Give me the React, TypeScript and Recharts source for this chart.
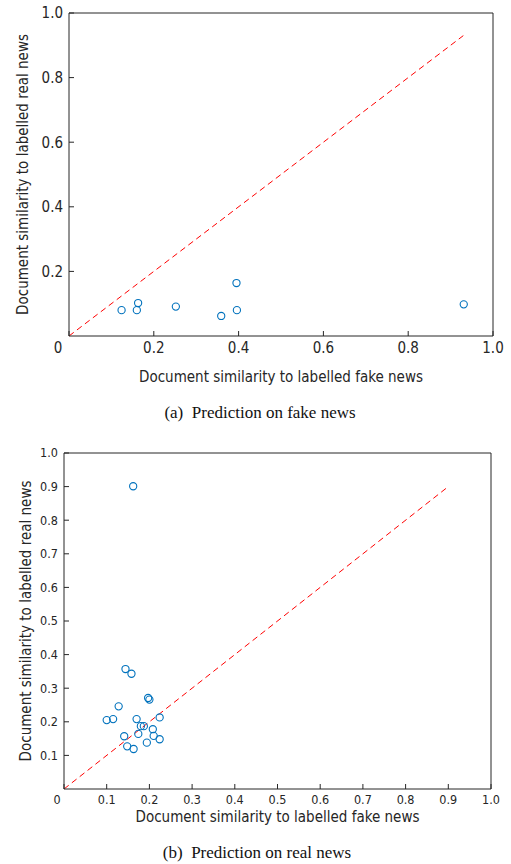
import { ScatterChart, Scatter, XAxis, YAxis, ReferenceLine } from 'recharts'

// (a) prediction on fake news
const FAKE_X = [0.124, 0.16, 0.163, 0.252, 0.359, 0.395, 0.396, 0.931]
const FAKE_Y = [0.08, 0.08, 0.102, 0.091, 0.062, 0.164, 0.08, 0.098]
const FAKE_X_TICKS = [0, 0.2, 0.4, 0.6, 0.8, 1.0]
const FAKE_Y_TICKS = [0.2, 0.4, 0.6, 0.8, 1.0]
const FAKE_DIAG_END = 0.93

// (b) prediction on real news
const REAL_X = [0.162, 0.144, 0.158, 0.197, 0.2, 0.128, 0.1, 0.115, 0.17, 0.224, 0.18, 0.187, 0.208, 0.174, 0.141, 0.21, 0.224, 0.194, 0.148, 0.163]
const REAL_Y = [0.901, 0.357, 0.343, 0.271, 0.266, 0.246, 0.205, 0.208, 0.208, 0.213, 0.187, 0.187, 0.178, 0.164, 0.157, 0.158, 0.148, 0.138, 0.127, 0.119]
const REAL_X_TICKS = [0, 0.1, 0.2, 0.3, 0.4, 0.5, 0.6, 0.7, 0.8, 0.9, 1.0]
const REAL_Y_TICKS = [0.1, 0.2, 0.3, 0.4, 0.5, 0.6, 0.7, 0.8, 0.9, 1.0]
const REAL_DIAG_END = 0.9

const X_LABEL = 'Document similarity to labelled fake news'
const Y_LABEL = 'Document similarity to labelled real news'
const CAPTION_A = '(a)  Prediction on fake news'
const CAPTION_B = '(b)  Prediction on real news'

const INK = '#262626'
const MARKER = '#0072BD'
const FONT = "'DejaVu Sans Condensed', 'DejaVu Sans', sans-serif"
const TICK_GAP = 6
const TICK_LEN = 5

const fmt = (v: number) => (v === 0 ? '0' : v.toFixed(1))

function BottomTick({ x, y, payload, fontSize, zeroShift }: any) {
  const ay = y - TICK_GAP
  const dx = payload.value === 0 ? zeroShift : 0
  return (
    <g>
      <line x1={x} x2={x} y1={ay} y2={ay - TICK_LEN} stroke={INK} />
      <text x={x + dx} y={y} dy="0.71em" textAnchor="middle" fill={INK} fontSize={fontSize} fontFamily={FONT}>
        {fmt(payload.value)}
      </text>
    </g>
  )
}

function LeftTick({ x, y, payload, fontSize }: any) {
  const ax = x + TICK_GAP
  return (
    <g>
      <line x1={ax} x2={ax + TICK_LEN} y1={y} y2={y} stroke={INK} />
      <text x={x} y={y} dy="0.355em" textAnchor="end" fill={INK} fontSize={fontSize} fontFamily={FONT}>
        {fmt(payload.value)}
      </text>
    </g>
  )
}

function TopTick({ x, y }: any) {
  const ay = y + TICK_GAP
  return <line x1={x} x2={x} y1={ay} y2={ay + TICK_LEN} stroke={INK} />
}

function RightTick({ x, y }: any) {
  const ax = x - TICK_GAP
  return <line x1={ax} x2={ax - TICK_LEN} y1={y} y2={y} stroke={INK} />
}

const OpenCircle = ({ cx, cy }: any) => (
  <circle cx={cx} cy={cy} r={3.6} fill="none" stroke={MARKER} strokeWidth={1.1} />
)

interface PanelProps {
  xs: number[]
  ys: number[]
  xTicks: number[]
  yTicks: number[]
  diagEnd: number
  height: number
  margin: { top: number; right: number; bottom: number; left: number }
  yAxisWidth: number
  xAxisHeight: number
  tickFont: number
  labelFont: number
  xLabelOffset: number
  yLabelOffset: number
  zeroShift: number
}

function Panel(p: PanelProps) {
  const data = p.xs.map((x, i) => ({ x, y: p.ys[i] }))
  const labelStyle = { fill: INK, fontSize: p.labelFont, fontFamily: FONT }
  return (
    <ScatterChart width={511} height={p.height} margin={p.margin}>
      <XAxis
        dataKey="x"
        type="number"
        domain={[0, 1]}
        ticks={p.xTicks}
        interval={0}
        height={p.xAxisHeight}
        tickSize={0}
        tickMargin={TICK_GAP}
        tickLine={false}
        axisLine={{ stroke: INK }}
        tick={<BottomTick fontSize={p.tickFont} zeroShift={p.zeroShift} />}
        label={{ value: X_LABEL, position: 'insideBottom', offset: p.xLabelOffset, style: labelStyle }}
      />
      <XAxis
        xAxisId="top"
        orientation="top"
        type="number"
        dataKey="x"
        domain={[0, 1]}
        ticks={p.xTicks}
        interval={0}
        height={1}
        tickSize={0}
        tickMargin={TICK_GAP}
        tickLine={false}
        axisLine={{ stroke: INK }}
        tick={<TopTick />}
      />
      <YAxis
        dataKey="y"
        type="number"
        domain={[0, 1]}
        ticks={p.yTicks}
        interval={0}
        width={p.yAxisWidth}
        tickSize={0}
        tickMargin={TICK_GAP}
        tickLine={false}
        axisLine={{ stroke: INK }}
        tick={<LeftTick fontSize={p.tickFont} />}
        label={{
          value: Y_LABEL,
          angle: -90,
          position: 'insideLeft',
          offset: p.yLabelOffset,
          style: { ...labelStyle, textAnchor: 'middle' },
        }}
      />
      <YAxis
        yAxisId="right"
        orientation="right"
        type="number"
        dataKey="y"
        domain={[0, 1]}
        ticks={p.yTicks}
        interval={0}
        width={1}
        tickSize={0}
        tickMargin={TICK_GAP}
        tickLine={false}
        axisLine={{ stroke: INK }}
        tick={<RightTick />}
      />
      <ReferenceLine
        segment={[
          { x: 0, y: 0 },
          { x: p.diagEnd, y: p.diagEnd },
        ]}
        stroke="#ff0000"
        strokeDasharray="6 4"
      />
      <Scatter data={data} shape={<OpenCircle />} isAnimationActive={false} />
    </ScatterChart>
  )
}

const captionStyle = {
  position: 'absolute' as const,
  left: 0,
  fontFamily: "'Liberation Serif', 'Times New Roman', serif",
  fontSize: 17,
  lineHeight: '17px',
  textAlign: 'center' as const,
  whiteSpace: 'pre' as const,
  color: '#111',
}

export default function App() {
  return (
    <div style={{ position: 'absolute', left: 0, top: 0, width: 511, height: 864, background: '#fff' }}>
      <div style={{ position: 'absolute', left: 0, top: 0 }}>
        <Panel
          xs={FAKE_X}
          ys={FAKE_Y}
          xTicks={FAKE_X_TICKS}
          yTicks={FAKE_Y_TICKS}
          diagEnd={FAKE_DIAG_END}
          height={392}
          margin={{ top: 12, right: 17, bottom: 0, left: 19 }}
          yAxisWidth={50}
          xAxisHeight={56}
          tickFont={15}
          labelFont={15}
          xLabelOffset={10}
          yLabelOffset={3.5}
          zeroShift={-11}
        />
      </div>
      <div style={{ ...captionStyle, top: 404, width: 520 }}>{CAPTION_A}</div>
      <div style={{ position: 'absolute', left: 0, top: 430 }}>
        <Panel
          xs={REAL_X}
          ys={REAL_Y}
          xTicks={REAL_X_TICKS}
          yTicks={REAL_Y_TICKS}
          diagEnd={REAL_DIAG_END}
          height={400}
          margin={{ top: 22, right: 19, bottom: 0, left: 19 }}
          yAxisWidth={45}
          xAxisHeight={41}
          tickFont={12.5}
          labelFont={15}
          xLabelOffset={8}
          yLabelOffset={7}
          zeroShift={-7}
        />
      </div>
      <div style={{ ...captionStyle, top: 844, width: 514 }}>{CAPTION_B}</div>
    </div>
  )
}
